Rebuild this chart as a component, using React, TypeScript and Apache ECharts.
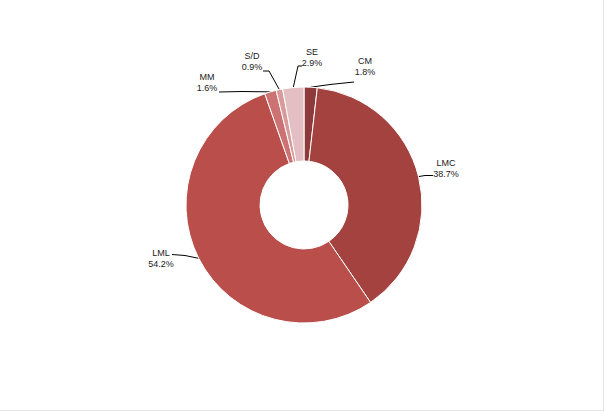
import React, { useEffect, useRef } from "react";
import * as echarts from "echarts";

const categories = ["CM", "LMC", "LML", "MM", "S/D", "SE"];
const values = [1.8, 38.7, 54.2, 1.6, 0.9, 2.9];
const colors = ["#8e3a3a", "#a44240", "#b94e4a", "#cc7272", "#d99a9a", "#e3bec2"];
// label block centres as placed in the original
const labelX = [365, 446, 161, 207, 252, 312];
const labelY = [66, 168, 258, 82, 61, 57];
// leader line bend and end points (towards the label)
const bendX = [330, 425, 185, 242, 269, 298];
const bendY = [84.5, 175.5, 255.5, 91.5, 71, 66];
const endX = [354, 433, 172, 219, 263, 302];
const endY = [82, 175.5, 254.5, 92, 71, 66];

export default function App() {
  const ref = useRef<HTMLDivElement>(null);
  useEffect(() => {
    document.body.style.margin = "0";
    const chart = echarts.init(ref.current!, null, { renderer: "svg" });
    chart.setOption({
      animation: false,
      series: [
        {
          type: "pie",
          center: [304, 205],
          radius: [44, 118],
          startAngle: 90,
          clockwise: true,
          avoidLabelOverlap: false,
          itemStyle: { borderColor: "#fff", borderWidth: 1 },
          label: {
            show: true,
            position: "outside",
            fontFamily: "Liberation Sans, Arial, sans-serif",
            fontSize: 9,
            lineHeight: 11,
            color: "#222",
            align: "center",
            formatter: (p: any) => `${p.name}\n${values[p.dataIndex]}%`,
          },
          labelLine: {
            show: true,
            length: 8,
            length2: 12,
            lineStyle: { color: "#000", width: 1 },
          },
          labelLayout: (p: any) => {
            const i = p.dataIndex;
            const start = p.labelLinePoints ? p.labelLinePoints[0] : [bendX[i], bendY[i]];
            return {
              x: labelX[i],
              y: labelY[i],
              align: "center",
              verticalAlign: "middle",
              labelLinePoints: [
                [start[0], start[1]],
                [bendX[i], bendY[i]],
                [endX[i], endY[i]],
              ],
            };
          },
          data: categories.map((c, i) => ({
            name: c,
            value: values[i],
            itemStyle: { color: colors[i] },
          })),
        },
      ],
    });
    return () => chart.dispose();
  }, []);
  return (
    <div
      style={{
        position: "fixed",
        left: 0,
        top: 0,
        width: 603,
        height: 410,
        borderRight: "1px solid #e4e4e4",
        borderBottom: "1px solid #e4e4e4",
        background: "#fff",
      }}
    >
      <div ref={ref} style={{ width: 603, height: 410 }} />
    </div>
  );
}
